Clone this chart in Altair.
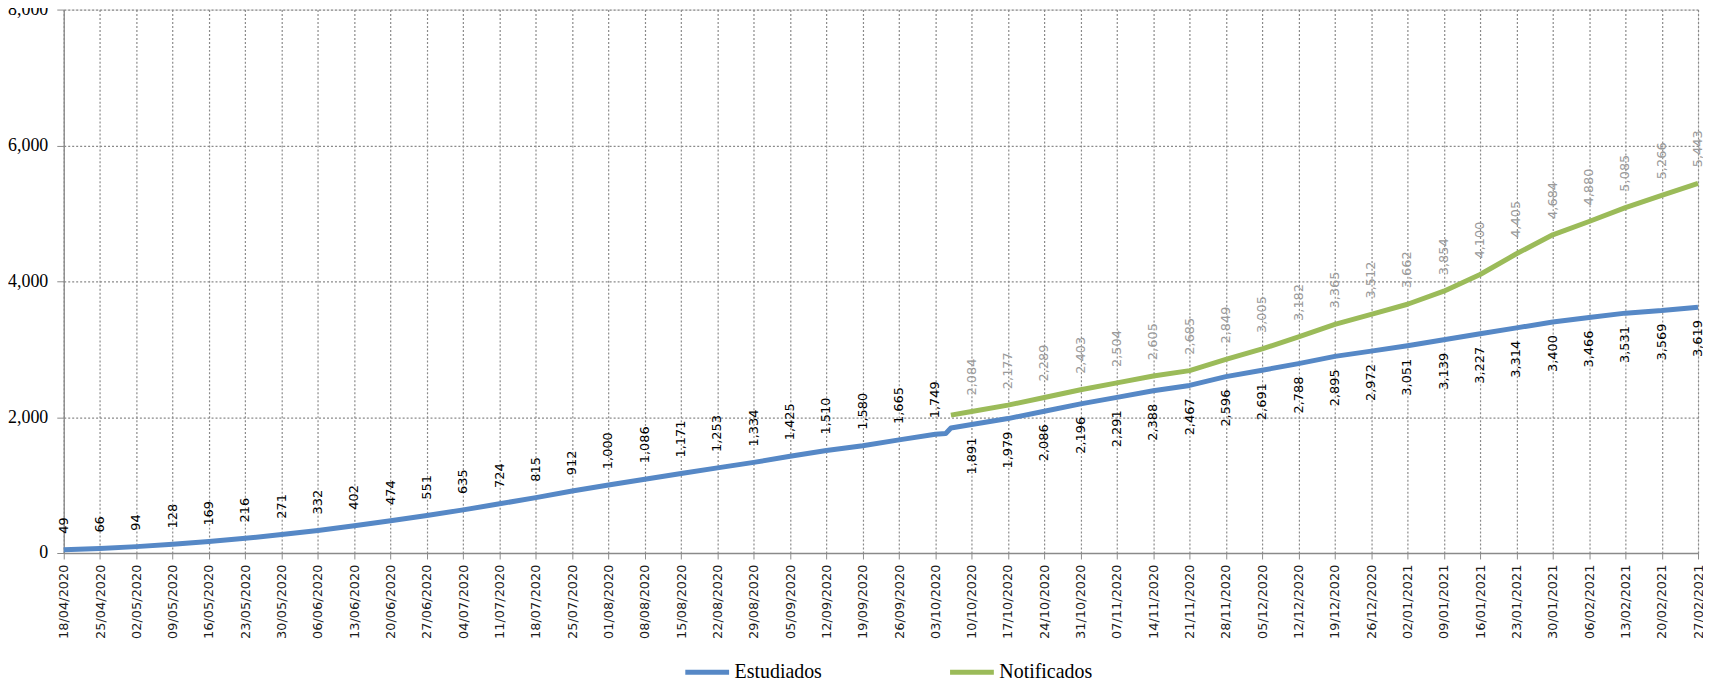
import altair as alt
import pandas as pd

# Weekly category labels (x axis)
week_labels = [
    "18/04/2020", "25/04/2020", "02/05/2020", "09/05/2020", "16/05/2020", "23/05/2020",
    "30/05/2020", "06/06/2020", "13/06/2020", "20/06/2020", "27/06/2020", "04/07/2020",
    "11/07/2020", "18/07/2020", "25/07/2020", "01/08/2020", "08/08/2020", "15/08/2020",
    "22/08/2020", "29/08/2020", "05/09/2020", "12/09/2020", "19/09/2020", "26/09/2020",
    "03/10/2020", "10/10/2020", "17/10/2020", "24/10/2020", "31/10/2020", "07/11/2020",
    "14/11/2020", "21/11/2020", "28/11/2020", "05/12/2020", "12/12/2020", "19/12/2020",
    "26/12/2020", "02/01/2021", "09/01/2021", "16/01/2021", "23/01/2021", "30/01/2021",
    "06/02/2021", "13/02/2021", "20/02/2021", "27/02/2021",
]

# Estudiados, weekly labelled values
estudiados = [
    49, 66, 94, 128, 169, 216, 271, 332, 402, 474, 551, 635, 724, 815, 912,
    1000, 1086, 1171, 1253, 1334, 1425, 1510, 1580, 1665, 1749, 1891, 1979,
    2086, 2196, 2291, 2388, 2467, 2596, 2691, 2788, 2895, 2972, 3051, 3139,
    3227, 3314, 3400, 3466, 3531, 3569, 3619,
]
# Extra readings of the Estudiados line around the early-October jump
est_extra_dates = ["05/10/2020", "06/10/2020"]
est_extra_vals = [1760, 1840]

# Notificados: first reading (start of series) then weekly labelled values from 10/10/2020
notif_start_date = ["06/10/2020"]
notif_start_val = [2030]
notificados = [
    2084, 2177, 2289, 2403, 2504, 2605, 2685, 2849, 3005, 3182, 3365,
    3512, 3662, 3854, 4100, 4405, 4684, 4880, 5085, 5266, 5443,
]
notif_first_week = 25  # index in week_labels of the first weekly Notificados value

y_ticks = [0, 2000, 4000, 6000, 8000]

series_names = ["Estudiados", "Notificados"]
series_colors = ["#5688C6", "#9BBB59"]


def ts(label):
    return int(pd.Timestamp(pd.to_datetime(label, format="%d/%m/%Y")).value // 10**6)


# ---- line data
rows = []
for d, v in zip(week_labels, estudiados):
    rows.append({"t": ts(d), "v": v, "s": "Estudiados"})
for d, v in zip(est_extra_dates, est_extra_vals):
    rows.append({"t": ts(d), "v": v, "s": "Estudiados"})
for d, v in zip(notif_start_date, notif_start_val):
    rows.append({"t": ts(d), "v": v, "s": "Notificados"})
for d, v in zip(week_labels[notif_first_week:], notificados):
    rows.append({"t": ts(d), "v": v, "s": "Notificados"})
line_df = pd.DataFrame(rows).sort_values(["s", "t"])

# ---- label data
lab_rows = []
for i, (d, v) in enumerate(zip(week_labels, estudiados)):
    lab_rows.append({"t": ts(d), "v": v, "s": "Estudiados",
                     "pos": "above" if i < notif_first_week else "below"})
for d, v in zip(week_labels[notif_first_week:], notificados):
    lab_rows.append({"t": ts(d), "v": v, "s": "Notificados", "pos": "above"})
lab_df = pd.DataFrame(lab_rows)

tick_values = [ts(d) for d in week_labels]

x_scale = alt.Scale(type="utc", domain=[tick_values[0], tick_values[-1]], nice=False)
y_scale = alt.Scale(domain=[0, 8000], nice=False)

grid_col = "#8a8a8a"
lab_size = 13

x_enc = alt.X(
    "t:T",
    scale=x_scale,
    axis=alt.Axis(
        values=tick_values, tickCount=60, format="%d/%m/%Y", labelAngle=270, title=None,
        grid=True, gridDash=[2, 2], gridColor=grid_col, gridWidth=1.2,
        domainColor=grid_col, domainWidth=1.3, tickColor=grid_col, tickSize=6,
        labelFont="DejaVu Sans", labelFontSize=lab_size, labelColor="#1a1a1a",
        labelPadding=5, labelOverlap=False, labelFlush=False, labelBound=False,
    ),
)
y_enc = alt.Y(
    "v:Q",
    scale=y_scale,
    axis=alt.Axis(
        values=y_ticks, tickCount=10, format=",d", title=None,
        grid=True, gridDash=[2, 2], gridColor=grid_col, gridWidth=1.2,
        domainColor=grid_col, domainWidth=1.3, tickColor=grid_col, tickSize=7,
        labelFont="Liberation Serif", labelFontSize=18, labelColor="#000000",
        labelPadding=9, labelFlush=False,
    ),
)

color_enc = alt.Color(
    "s:N",
    scale=alt.Scale(domain=series_names, range=series_colors),
    legend=alt.Legend(
        title=None, orient="none", direction="horizontal",
        legendX=622, legendY=641,
        symbolType="stroke", symbolSize=1936, symbolStrokeWidth=5,
        labelFont="Liberation Serif", labelFontSize=20, labelColor="#000000",
        labelOffset=3, columnPadding=118, padding=0,
    ),
)

lines = alt.Chart(line_df).mark_line(strokeWidth=5, strokeJoin="round", strokeCap="butt").encode(
    x=x_enc, y=y_enc, color=color_enc, detail="s:N"
)

est_above = alt.Chart(lab_df[(lab_df.s == "Estudiados") & (lab_df.pos == "above")]).mark_text(
    angle=270, align="left", baseline="middle", dx=16,
    font="DejaVu Sans", fontSize=lab_size, color="#000000",
).encode(x="t:T", y="v:Q", text=alt.Text("v:Q", format=",d"))

est_below = alt.Chart(lab_df[(lab_df.s == "Estudiados") & (lab_df.pos == "below")]).mark_text(
    angle=270, align="right", baseline="middle", dx=-13,
    font="DejaVu Sans", fontSize=lab_size, color="#000000",
).encode(x="t:T", y="v:Q", text=alt.Text("v:Q", format=",d"))

notif_lab = alt.Chart(lab_df[lab_df.s == "Notificados"]).mark_text(
    angle=270, align="left", baseline="middle", dx=16,
    font="DejaVu Sans", fontSize=lab_size, color="#9a9a9a",
).encode(x="t:T", y="v:Q", text=alt.Text("v:Q", format=",d"))

chart = (
    alt.layer(lines, est_above, est_below, notif_lab)
    .properties(
        width=1642, height=546,
        autosize=alt.AutoSizeParams(type="none"),
        padding={"left": 56, "top": 0, "right": 5, "bottom": 124},
    )
    .configure_view(stroke=None)
    .configure(background="white")
)

chart.save("out.html", embed_options={"renderer": "svg", "actions": False})
